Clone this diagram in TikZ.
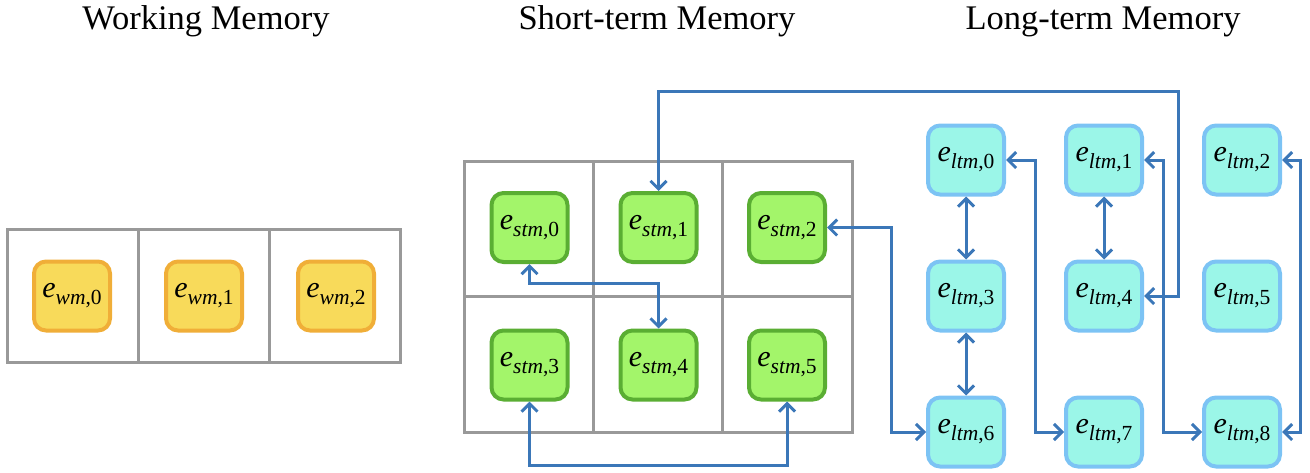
\documentclass[tikz,border=0pt]{standalone}
\usepackage{fontspec}
\setmainfont{Liberation Serif}
\usetikzlibrary{arrows.meta}
\definecolor{wmfill}{HTML}{F8DA5A}
\definecolor{wmdraw}{HTML}{F0AE38}
\definecolor{stmfill}{HTML}{A3F56A}
\definecolor{stmdraw}{HTML}{5AAE33}
\definecolor{ltmfill}{HTML}{9BF6E8}
\definecolor{ltmdraw}{HTML}{7CC3F4}
\definecolor{arr}{HTML}{3B77B8}
\definecolor{gridc}{HTML}{999999}
\newcommand{\elab}[2]{\fontsize{30}{30}\selectfont\textit{e}\raisebox{-7pt}{\fontsize{21.5}{21.5}\selectfont\textit{#1},#2}}
\begin{document}
\begin{tikzpicture}[x=1pt,y=-1pt,
  box/.style={rounded corners=12pt, minimum width=76pt, minimum height=69pt, line width=4pt, inner sep=0pt},
  wm/.style={box, fill=wmfill, draw=wmdraw},
  stm/.style={box, fill=stmfill, draw=stmdraw},
  ltm/.style={box, fill=ltmfill, draw=ltmdraw},
  link/.style={draw=arr, line width=3pt, {Straight Barb[length=8pt,width=16pt]}-{Straight Barb[length=8pt,width=16pt]}},
  cellbox/.style={draw=gridc, line width=3pt},
  title/.style={anchor=base, font=\fontsize{34.5}{36}\selectfont, inner sep=0pt}
]
\useasboundingbox (0,0) rectangle (1310,472);

% titles
\node[title] (t1) at (206,29) {Working Memory};
\node[title] (t2) at (657,29) {Short-term Memory};
\node[title] (t3) at (1103,29) {Long-term Memory};

% grids
\draw[cellbox] (7,229) rectangle (400,362);
\draw[cellbox] (138,229) -- (138,362) (269,229) -- (269,362);
\draw[cellbox] (464,161) rectangle (852,432);
\draw[cellbox] (593,161) -- (593,432) (722,161) -- (722,432) (464,296) -- (852,296);

% working memory
\node[wm] (wm0) at (72,296) {\elab{wm}{0}};
\node[wm] (wm1) at (204,296) {\elab{wm}{1}};
\node[wm] (wm2) at (336,296) {\elab{wm}{2}};

% short-term memory
\node[stm] (stm0) at (529.5,227.5) {\elab{stm}{0}};
\node[stm] (stm1) at (658.5,227.5) {\elab{stm}{1}};
\node[stm] (stm2) at (787,227.5) {\elab{stm}{2}};
\node[stm] (stm3) at (529.5,365) {\elab{stm}{3}};
\node[stm] (stm4) at (658.5,365) {\elab{stm}{4}};
\node[stm] (stm5) at (787,365) {\elab{stm}{5}};

% long-term memory
\node[ltm] (ltm0) at (966,160) {\elab{ltm}{0}};
\node[ltm] (ltm1) at (1104,160) {\elab{ltm}{1}};
\node[ltm] (ltm2) at (1242,160) {\elab{ltm}{2}};
\node[ltm] (ltm3) at (966,296) {\elab{ltm}{3}};
\node[ltm] (ltm4) at (1104,296) {\elab{ltm}{4}};
\node[ltm] (ltm5) at (1242,296) {\elab{ltm}{5}};
\node[ltm] (ltm6) at (966,432) {\elab{ltm}{6}};
\node[ltm] (ltm7) at (1104,432) {\elab{ltm}{7}};
\node[ltm] (ltm8) at (1242,432) {\elab{ltm}{8}};

% connectors
\draw[link] (stm1.north) -- (stm1.north |- 0,91) -| ([xshift=34pt]ltm4.east) -- (ltm4.east);
\draw[link] (stm0.south) -- ++(0,19) -| (stm4.north);
\draw[link] (stm3.south) -- ++(0,64) -| (stm5.south);
\draw[link] (stm2.east) -- ++(64,0) |- (ltm6.west);
\draw[link] (ltm0.south) -- (ltm3.north);
\draw[link] (ltm3.south) -- (ltm6.north);
\draw[link] (ltm1.south) -- (ltm4.north);
\draw[link] (ltm0.east) -- ++(29,0) |- (ltm7.west);
\draw[link] (ltm1.east) -- ++(19,0) |- (ltm8.west);
\draw[link] (ltm2.east) -- ++(18,0) |- (ltm8.east);
\end{tikzpicture}
\end{document}
